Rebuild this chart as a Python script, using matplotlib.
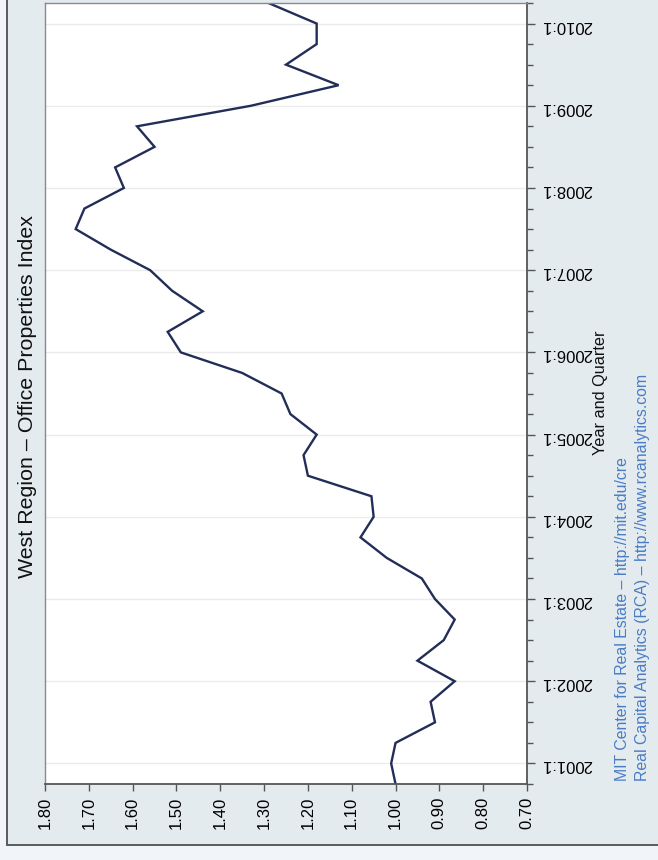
import matplotlib
matplotlib.use("Agg")
import matplotlib.pyplot as plt
from matplotlib.patches import Rectangle
from matplotlib.ticker import FixedLocator, MultipleLocator

plt.rcParams['font.family'] = ['Liberation Sans', 'DejaVu Sans']

# quarterly index values, 2000:4 .. 2010:2 (quarter index -1 .. 37, 0 = 2001:1)
quarters = list(range(-1, 38))
index_values = [1.00, 1.01, 1.00, 0.91, 0.92, 0.865, 0.95, 0.89, 0.865, 0.91,
                0.94, 1.02, 1.08, 1.05, 1.055, 1.20, 1.21, 1.18, 1.24, 1.26,
                1.35, 1.49, 1.52, 1.44, 1.51, 1.56, 1.65, 1.73, 1.71, 1.62,
                1.64, 1.55, 1.59, 1.33, 1.13, 1.25, 1.18, 1.18, 1.29]
year_ticks = list(range(0, 37, 4))
year_labels = [f"{2001 + k}:1" for k in range(len(year_ticks))]
value_ticks = [0.70, 0.80, 0.90, 1.00, 1.10, 1.20, 1.30, 1.40, 1.50, 1.60, 1.70, 1.80]

title = "West Region \u2013 Office Properties Index"
xtitle = "Year and Quarter"
notes = ["MIT Center for Real Estate \u2013 http://mit.edu/cre",
         "Real Capital Analytics (RCA) \u2013 http://www.rcanalytics.com"]

W, H = 658, 860
fig = plt.figure(figsize=(W / 100, H / 100), dpi=100)
fig.patch.set_facecolor("#f1f5f9")

# graph region (light bluish) with frame, kept behind the axes
fig.patches.append(Rectangle((7 / W, (H - 845) / H), 1.0, 1.0, transform=fig.transFigure,
                             facecolor="#e3ebee", edgecolor="#5a5a5a", linewidth=1.4, zorder=-10))

ax = fig.add_axes([45 / W, (H - 784) / H, 482 / W, 781 / H])
ax.set_zorder(5)
ax.set_facecolor("white")

# the chart is drawn turned a quarter turn: values across, quarters upward
ax.plot(index_values, quarters, color="#222d58", linewidth=1.7, solid_joinstyle="miter")

ax.set_xlim(1.80, 0.70)
ax.set_ylim(-1, 37)

ax.xaxis.set_major_locator(FixedLocator(value_ticks))
ax.set_xticklabels([f"{v:.2f}" for v in value_ticks])
ax.tick_params(axis="x", which="major", labelrotation=90, length=5, width=1,
               color="#555555", labelsize=12, pad=4)

ax.yaxis.tick_right()
ax.yaxis.set_major_locator(FixedLocator(year_ticks))
ax.yaxis.set_minor_locator(MultipleLocator(1))
ax.set_yticklabels(year_labels)
ax.tick_params(axis="y", which="major", labelrotation=180, length=6, width=1,
               color="#555555", labelsize=12, pad=4)
ax.tick_params(axis="y", which="minor", length=4, width=1, color="#555555")

for q in year_ticks:
    ax.axhline(q, color="#ebebeb", linewidth=1, zorder=0)

for side in ["bottom", "right"]:
    ax.spines[side].set_color("#555555")
    ax.spines[side].set_linewidth(1.3)
for side in ["left", "top"]:
    ax.spines[side].set_color("#8a8a8a")
    ax.spines[side].set_linewidth(1.0)

fig.text(28 / W, 1 - 397 / H, title, rotation=90, ha="center", va="center",
         fontsize=15.4, color="#111111")
fig.text(600 / W, 1 - 393 / H, xtitle, rotation=90, ha="center", va="center",
         fontsize=11.7, color="#111111")
fig.text(622 / W, 1 - 781 / H, notes[0], rotation=90, ha="center", va="bottom",
         fontsize=11.4, color="#4a7cc4")
fig.text(642 / W, 1 - 781 / H, notes[1], rotation=90, ha="center", va="bottom",
         fontsize=11.4, color="#4a7cc4")

fig.savefig("out.png", dpi=100, facecolor=fig.get_facecolor())
